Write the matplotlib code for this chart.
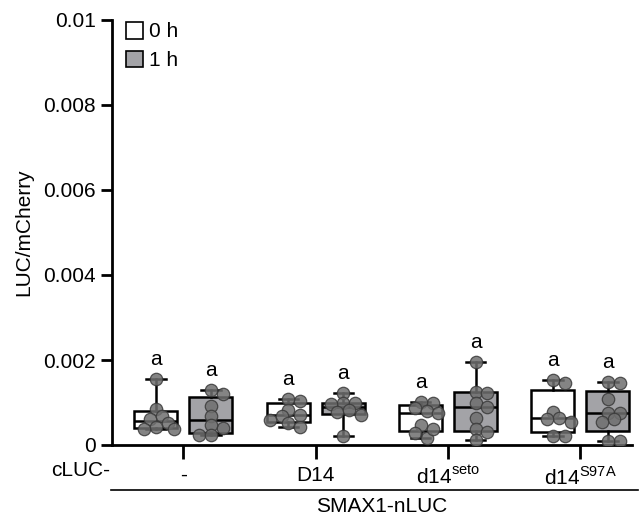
import numpy as np
import matplotlib.pyplot as plt
from matplotlib.patches import Patch

plt.rcParams['font.family'] = ['Liberation Sans', 'DejaVu Sans']
plt.rcParams['mathtext.fontset'] = 'custom'
plt.rcParams['mathtext.rm'] = 'Liberation Sans'

# values (LUC/mCherry)
groups = ['-', 'D14', r'd14$^{\mathrm{seto}}$', r'd14$^{\mathrm{S97A}}$']
h0 = [
    [0.00156, 0.00085, 0.00062, 0.00069, 0.00052, 0.00043, 0.00038, 0.00038],
    [0.00104, 0.00109, 0.00083, 0.00071, 0.00069, 0.00059, 0.00052, 0.00043],
    [0.00099, 0.00102, 0.00080, 0.00076, 0.00088, 0.00047, 0.00017, 0.00028, 0.00038],
    [0.00154, 0.00147, 0.00078, 0.00064, 0.00062, 0.00054, 0.00022, 0.00022],
]
h1 = [
    [0.00121, 0.00130, 0.00092, 0.00069, 0.00040, 0.00047, 0.00024, 0.00024],
    [0.00123, 0.00100, 0.00097, 0.00098, 0.00078, 0.00083, 0.00071, 0.00022],
    [0.00196, 0.00125, 0.00123, 0.00099, 0.00090, 0.00064, 0.00038, 0.00030, 0.00012],
    [0.00149, 0.00147, 0.00109, 0.00076, 0.00076, 0.00062, 0.00054, 0.00010, 0.00010],
]
letters = ['a', 'a', 'a', 'a']

fill_1h = '#a3a3a7'
dot_col = '#6f6f6f'
fs = 15


def box_stats(vals):
    v = np.array(vals)
    q1, med, q3 = np.percentile(v, [25, 50, 75], method='weibull')
    return dict(med=med, q1=q1, q3=q3, whislo=v.min(), whishi=v.max(), fliers=[])


def swarm(vals, center, ax_px_x, ax_px_y, diam=11.0, step=0.045):
    # simple deterministic spread so overlapping dots sit side by side
    order = np.argsort(vals)[::-1]
    placed = []
    xs = np.zeros(len(vals))
    for i in order:
        y = vals[i]
        for k in range(0, 10):
            cands = [0.0] if k == 0 else [k * step, -k * step]
            ok = None
            for c in cands:
                good = True
                for (px, py) in placed:
                    dx = (c - px) * ax_px_x
                    dy = (y - py) * ax_px_y
                    if dx * dx + dy * dy < diam * diam * 0.55:
                        good = False
                        break
                if good:
                    ok = c
                    break
            if ok is not None:
                break
        xs[i] = center + ok
        placed.append((ok, y))
    return xs


fig = plt.figure(figsize=(6.39, 5.18), dpi=100)
ax = fig.add_axes([112 / 639, 73 / 518, 520 / 639, 425 / 518])

xpos = np.arange(len(groups))
off = 0.2075
width = 0.325
px_x = 520 / 3.93
px_y = 425 / 0.01

for i in range(len(groups)):
    for vals, dx, fc in [(h0[i], -off, 'white'), (h1[i], off, fill_1h)]:
        st = box_stats(vals)
        ax.bxp([st], positions=[xpos[i] + dx], widths=width, patch_artist=True,
               showfliers=False,
               boxprops=dict(facecolor=fc, edgecolor='black', linewidth=1.8),
               medianprops=dict(color='black', linewidth=1.8),
               whiskerprops=dict(color='black', linewidth=1.8),
               capprops=dict(color='black', linewidth=1.8),
               capwidths=width * 0.45, manage_ticks=False)
        v = np.array(vals)
        xs = swarm(v, xpos[i] + dx, px_x, px_y)
        ax.scatter(xs, v, s=80, color=dot_col, edgecolor='#3a3a3a', linewidth=0.9,
                   alpha=0.85, zorder=5)
        ax.text(xpos[i] + dx, v.max() + 0.00022, letters[i], ha='center', va='bottom',
                fontsize=fs)

ax.set_xlim(-0.54, 3.39)
ax.set_ylim(0, 0.01)
ax.set_yticks([0, 0.002, 0.004, 0.006, 0.008, 0.01])
ax.set_yticklabels(['0', '0.002', '0.004', '0.006', '0.008', '0.01'])
ax.set_xticks(xpos)
ax.set_xticklabels(groups)
ax.tick_params(axis='both', labelsize=fs, width=2, length=8)
ax.tick_params(axis='x', length=10, pad=5)
for s in ['top', 'right']:
    ax.spines[s].set_visible(False)
for s in ['left', 'bottom']:
    ax.spines[s].set_linewidth(2)
ax.set_ylabel('LUC/mCherry', fontsize=fs, labelpad=7)

# cLUC- row label and SMAX1-nLUC bracket
fig.text(110 / 639, 1 - 470 / 518, 'cLUC-', ha='right', va='center', fontsize=fs)
fig.add_artist(plt.Line2D([111 / 639, 638 / 639], [1 - 490 / 518, 1 - 490 / 518],
                          color='black', linewidth=1.2))
fig.text(382 / 639, 1 - 506 / 518, 'SMAX1-nLUC', ha='center', va='center', fontsize=fs)

handles = [Patch(facecolor='white', edgecolor='black', linewidth=1.2, label='0 h'),
           Patch(facecolor=fill_1h, edgecolor='black', linewidth=1.2, label='1 h')]
ax.legend(handles=handles, loc='upper left', bbox_to_anchor=(0.01, 1.015), frameon=False,
          fontsize=fs, handlelength=0.85, handleheight=0.85, handletextpad=0.3,
          labelspacing=0.45, borderaxespad=0)

fig.savefig('out.png', dpi=100)
